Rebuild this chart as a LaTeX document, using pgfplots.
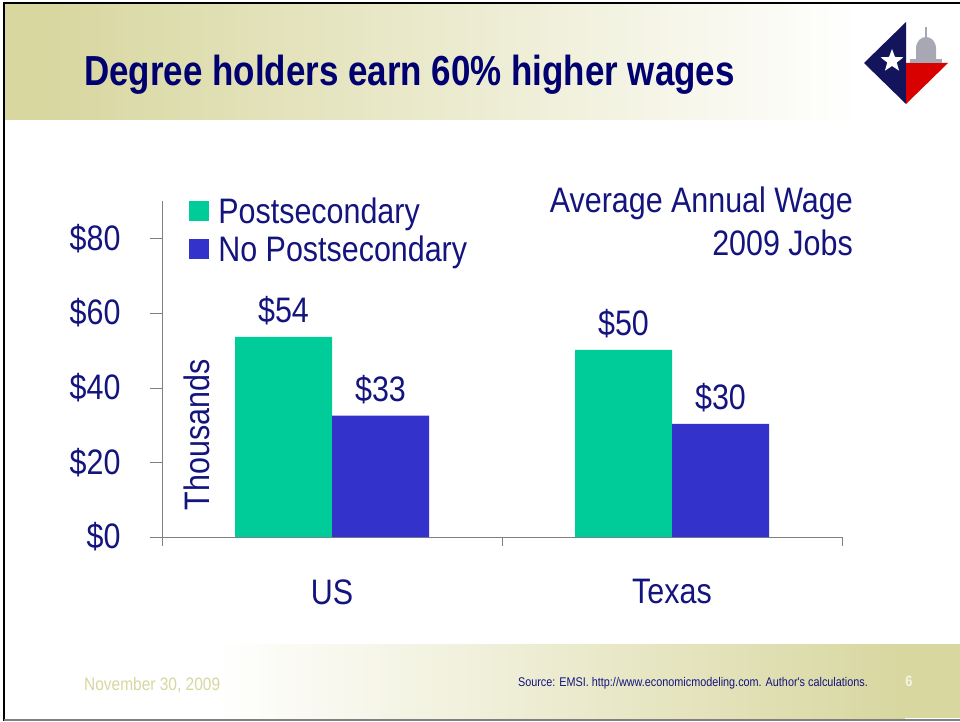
\documentclass[border=0pt]{standalone}
\usepackage{fontspec}
\setmainfont{Liberation Sans}
\newfontfamily\narrowfont[FakeStretch=0.86]{Liberation Sans}
\newfontfamily\titlefont[FakeStretch=0.832]{Liberation Sans}
\usepackage{pgfplots}
\pgfplotsset{compat=1.18}
\usetikzlibrary{shapes.geometric}
\definecolor{navytext}{HTML}{14147E}
\definecolor{titleblue}{HTML}{000070}
\definecolor{khaki}{HTML}{D8D7A0}
\definecolor{postgreen}{HTML}{00CC99}
\definecolor{nopostblue}{HTML}{3333CC}
\definecolor{axisgray}{HTML}{808080}
\definecolor{logonavy}{HTML}{14145C}
\definecolor{logogray}{HTML}{A8A8B4}
\newcommand{\chartfont}{\narrowfont\fontsize{35.4}{40}\selectfont}
\begin{document}
\begin{tikzpicture}[x=1pt,y=1pt]
\useasboundingbox (0,0) rectangle (960,721);
\fill[white] (0,0) rectangle (960,721);
% slide bands
\fill[khaki] (5,601) rectangle (50,717);
\shade[left color=khaki,right color=white] (50,601) rectangle (860,717);
\shade[left color=white,right color=khaki] (215,3) rectangle (905,77);
\fill[khaki] (904.5,3) rectangle (960,77);
% slide border
\draw[black,line width=2.5pt] (4,0) -- (4,718) -- (960,718);
\draw[axisgray,line width=1.5pt] (4,1) -- (960,1);
% title and footer
\node[anchor=base west,inner sep=0pt,text=titleblue] at (84,635)
  {\titlefont\fontsize{42}{46}\selectfont\bfseries Degree holders earn 60\% higher wages};
\node[anchor=base west,inner sep=0pt,text=khaki] at (84,31)
  {\narrowfont\fontsize{18}{20}\selectfont November 30, 2009};
\node[anchor=base east,inner sep=0pt,text=navytext] at (868,35)
  {\narrowfont\fontsize{12.6}{15}\selectfont Source: EMSI. http://www.economicmodeling.com. Author's calculations.};
\node[anchor=base,inner sep=0pt,text=white!75!khaki] at (909,35)
  {\narrowfont\fontsize{15}{17}\selectfont\bfseries 6};
% logo
\fill[white] (864,617) rectangle (948,699);
\fill[logonavy] (906,699) -- (864,658) -- (906,617) -- cycle;
\fill[red!85!black] (906,617) -- (906,658) -- (948,658) -- cycle;
\fill[logogray] (916,661) -- (916,672) .. controls (916,688) and (936,688) .. (936,672) -- (936,661) -- cycle;
\fill[logogray] (910,658) rectangle (942,662);
\fill[logogray] (925,683) rectangle (927,694);
\node[star,star points=5,star point ratio=2.4,fill=white,inner sep=0pt,minimum size=24pt] at (892,660) {};
% chart
\begin{axis}[
  at={(162pt,184pt)},
  anchor=south west,
  scale only axis,
  width=680pt,
  height=336pt,
  xmin=0, xmax=2,
  ymin=0, ymax=90,
  ybar=0pt,
  bar width=97pt,
  axis y line=left,
  axis x line=bottom,
  axis line style={axisgray,-},
  xtick={0.5,1.5},
  xticklabels={US,Texas},
  minor xtick={0,1,2},
  major x tick style={draw=none},
  minor x tick style={axisgray},
  tick align=outside,
  minor tick length=9pt,
  ytick={0,20,40,60,80},
  yticklabels={\$0,\$20,\$40,\$60,\$80},
  y tick style={axisgray},
  major tick length=12pt,
  ticklabel style={font=\chartfont,text=navytext},
  yticklabel style={xshift=-26pt},
  xticklabel style={yshift=-27pt},
  nodes near coords={\$\pgfmathprintnumber[fixed,precision=0,assume math mode=true]{\pgfplotspointmeta}},
  every node near coord/.append style={font=\chartfont,text=navytext,yshift=8pt},
  legend cell align=left,
  legend style={at={(rel axis cs:0.04,1.01)},anchor=north west,draw=none,fill=none,
    font=\chartfont,text=navytext,inner sep=0pt,
    row sep=5pt,column sep=9pt,
    nodes={inner sep=0pt,text height=26pt,text depth=7pt}},
  legend image code/.code={\fill[#1] (0pt,-7pt) rectangle (20pt,13pt);},
  clip=false,
]
\addplot[draw=none,fill=postgreen] coordinates {(0.5,53.6) (1.5,50.1)};
\addlegendentry{Postsecondary}
\addplot[draw=none,fill=nopostblue] coordinates {(0.5,32.5) (1.5,30.3)};
\addlegendentry{No Postsecondary}
\end{axis}
% chart labels
\node[rotate=90,anchor=center,inner sep=0pt,text=navytext] at (197,286)
  {\chartfont Thousands};
\node[anchor=base east,inner sep=0pt,text=navytext] at (853,508)
  {\chartfont Average Annual Wage};
\node[anchor=base east,inner sep=0pt,text=navytext] at (853,465)
  {\chartfont 2009 Jobs};
\end{tikzpicture}
\end{document}
